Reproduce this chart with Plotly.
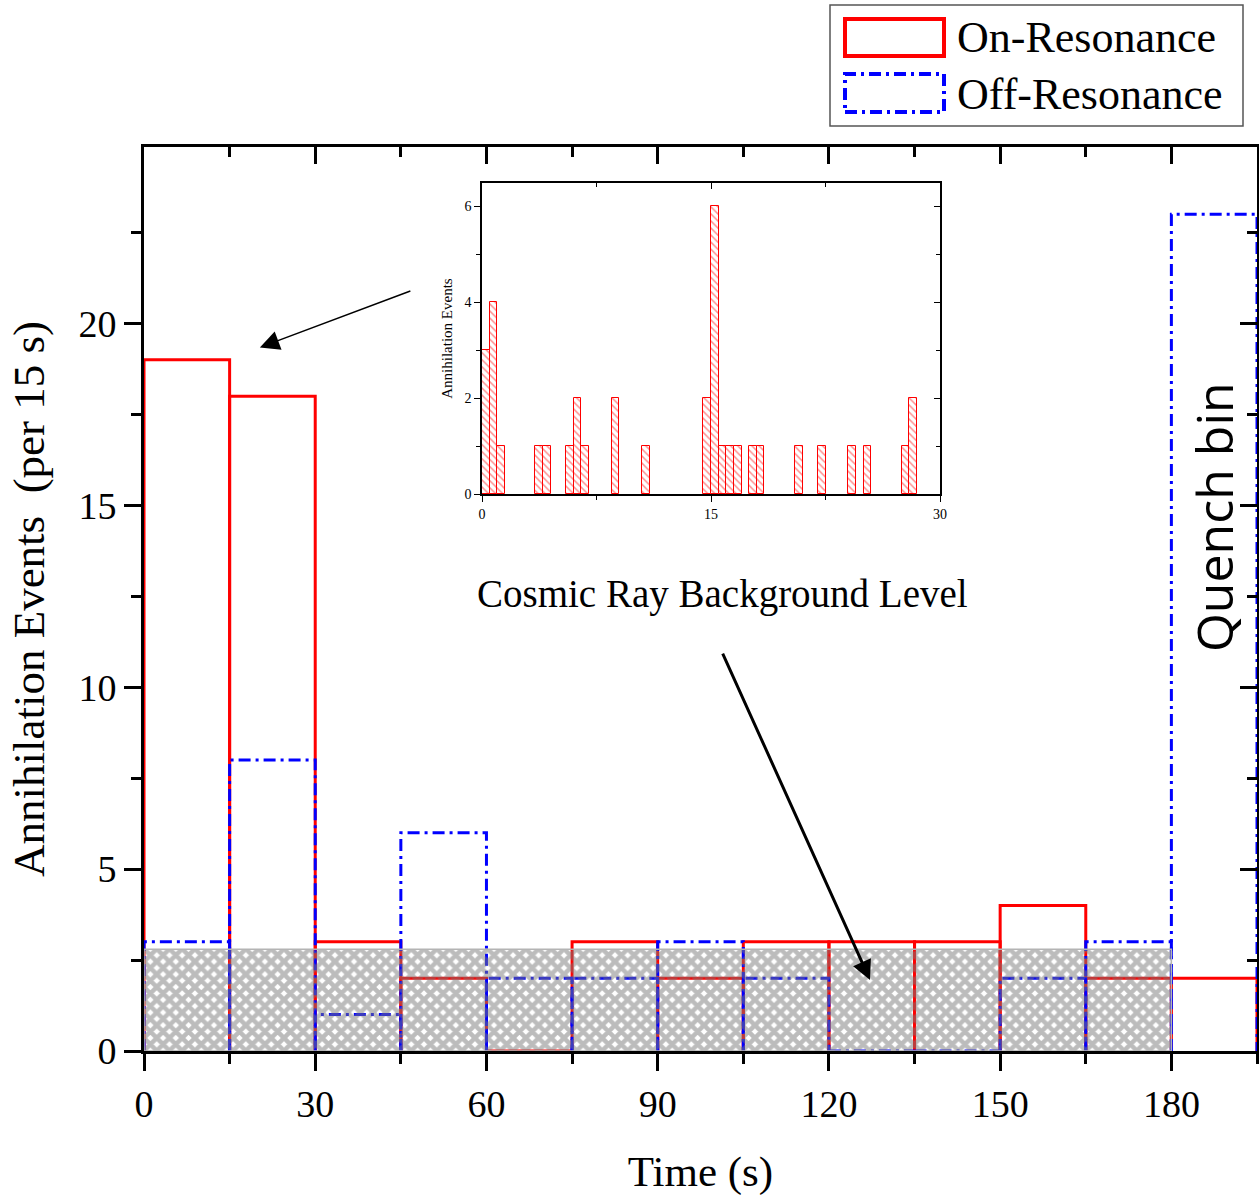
import plotly.graph_objects as go

# ---------------- data ----------------
bin_starts = [0, 15, 30, 45, 60, 75, 90, 105, 120, 135, 150, 165, 180]
bin_width = 15
on_resonance = [19, 18, 3, 2, 0, 3, 2, 3, 3, 3, 4, 2, 2]
off_resonance = [3, 8, 1, 6, 2, 2, 3, 2, 0, 0, 2, 3, 23]
background_level = 2.8
background_end = 180

inset_bin_starts = [0, 0.5, 1.0, 3.5, 4.0, 5.5, 6.0, 6.5, 8.5, 10.5, 14.5, 15.0,
                    15.5, 16.0, 16.5, 17.5, 18.0, 20.5, 22.0, 24.0, 25.0, 27.5, 28.0]
inset_counts = [3, 4, 1, 1, 1, 1, 2, 1, 2, 1, 2, 6, 1, 1, 1, 1, 1, 1, 1, 1, 1, 1, 2]
inset_bin_width = 0.5

x_ticks = [0, 30, 60, 90, 120, 150, 180]
y_ticks = [0, 5, 10, 15, 20]
inset_x_ticks = [0, 15, 30]
inset_y_ticks = [0, 2, 4, 6]

SERIF = "Liberation Serif"
W, H = 1259, 1196
L, R, T, B = 144, 2, 147, 145


def px(xp):
    return (xp - L) / (W - L - R)


def py(yp):
    return (H - B - yp) / (H - T - B)


def outline(starts, values, width):
    xs, ys = [], []
    for s, v in zip(starts, values):
        xs += [s, s, s + width, s + width, None]
        ys += [0, v, v, 0, None]
    return xs, ys


fig = go.Figure()

rx, ry = outline(bin_starts, on_resonance, bin_width)
fig.add_trace(go.Scatter(x=rx, y=ry, mode="lines", name="On-Resonance",
                         line=dict(color="#ff0000", width=3), showlegend=False,
                         hoverinfo="skip"))
bx, by = outline(bin_starts, off_resonance, bin_width)
fig.add_trace(go.Scatter(x=bx, y=by, mode="lines", name="Off-Resonance",
                         line=dict(color="#0000ff", width=3, dash="12px,5px,3px,5px"),
                         showlegend=False, hoverinfo="skip"))

# cosmic-ray background (hatched)
fig.add_trace(go.Scatter(x=[0, background_end, background_end, 0, 0],
                         y=[0, 0, background_level, background_level, 0],
                         mode="lines", fill="toself", fillcolor="rgba(255,255,255,0)",
                         fillpattern=dict(shape="x", size=9, solidity=0.75,
                                          fgcolor="#7a7a7a", bgcolor="rgba(255,255,255,0)"),
                         line=dict(color="#b4b4b4", width=1.5), showlegend=False,
                         hoverinfo="skip"))

# inset histogram
fig.add_trace(go.Bar(x=[s + inset_bin_width / 2 for s in inset_bin_starts], y=inset_counts,
                     width=inset_bin_width, xaxis="x2", yaxis="y2", showlegend=False,
                     marker=dict(color="white", line=dict(color="#ff0000", width=1),
                                 pattern=dict(shape="\\", size=5, solidity=0.3,
                                              fgcolor="#ff2020", bgcolor="white")),
                     hoverinfo="skip"))

# dummy traces for mirrored (inside) tick axes
for xa, ya in [("x3", "y"), ("x", "y3"), ("x4", "y2"), ("x2", "y4")]:
    fig.add_trace(go.Scatter(x=[None], y=[None], xaxis=xa, yaxis=ya, showlegend=False,
                             hoverinfo="skip"))

tickfont = dict(family=SERIF, size=38, color="black")
common_main = dict(showgrid=False, zeroline=False, linecolor="black", linewidth=3,
                   tickcolor="black", tickwidth=3, ticklen=17, automargin=False)
x_range = [0, 195]
y_range = [0, 24.85]

fig.update_layout(
    width=W, height=H, margin=dict(l=L, r=R, t=T, b=B, autoexpand=False),
    paper_bgcolor="white", plot_bgcolor="white",
    xaxis=dict(range=x_range, tickvals=x_ticks, ticks="outside", showline=True, mirror=True,
               tickfont=tickfont,
               minor=dict(dtick=15, tick0=0, ticks="outside", ticklen=10, tickwidth=3,
                          tickcolor="black"),
               title=dict(text="Time (s)", font=dict(family=SERIF, size=43, color="black"),
                          standoff=34),
               **common_main),
    yaxis=dict(range=y_range, tickvals=y_ticks, ticks="outside", showline=True, mirror=True,
               tickfont=tickfont,
               minor=dict(dtick=2.5, tick0=0, ticks="outside", ticklen=10, tickwidth=3,
                          tickcolor="black"),
               title=dict(text="Annihilation Events  (per 15 s)",
                          font=dict(family=SERIF, size=45, color="black"), standoff=20),
               **common_main),
    xaxis3=dict(range=x_range, overlaying="x", side="top", anchor="y", tickvals=x_ticks,
                ticks="inside", showticklabels=False, showline=False, automargin=False,
                minor=dict(dtick=15, tick0=0, ticks="inside", ticklen=10, tickwidth=3,
                           tickcolor="black"),
                showgrid=False, zeroline=False, tickcolor="black", tickwidth=3, ticklen=17),
    yaxis3=dict(range=y_range, overlaying="y", side="right", anchor="x", tickvals=y_ticks,
                ticks="inside", showticklabels=False, showline=False, automargin=False,
                minor=dict(dtick=2.5, tick0=0, ticks="inside", ticklen=10, tickwidth=3,
                           tickcolor="black"),
                showgrid=False, zeroline=False, tickcolor="black", tickwidth=3, ticklen=17),
    xaxis2=dict(domain=[px(482), px(940)], anchor="y2", range=[0, 30], tickvals=inset_x_ticks,
                ticks="outside", ticklen=6, tickwidth=1, tickcolor="black",
                showline=True, mirror=True, linecolor="black", linewidth=1.5,
                showgrid=False, zeroline=False, automargin=False,
                tickfont=dict(family=SERIF, size=14, color="black"),
                minor=dict(dtick=7.5, tick0=0, ticks="outside", ticklen=4, tickwidth=1,
                           tickcolor="black")),
    yaxis2=dict(domain=[py(494), py(183)], anchor="x2", range=[0, 6.48],
                tickvals=inset_y_ticks, ticks="outside", ticklen=6, tickwidth=1,
                tickcolor="black", showline=True, mirror=True, linecolor="black",
                linewidth=1.5, showgrid=False, zeroline=False, automargin=False,
                tickfont=dict(family=SERIF, size=14, color="black"),
                minor=dict(dtick=1, tick0=0, ticks="outside", ticklen=4, tickwidth=1,
                           tickcolor="black"),
                title=dict(text="Annihilation Events",
                           font=dict(family=SERIF, size=15, color="black"), standoff=8)),
    xaxis4=dict(range=[0, 30], overlaying="x2", side="top", anchor="y2",
                tickvals=inset_x_ticks, ticks="inside", ticklen=6, tickwidth=1,
                tickcolor="black", showticklabels=False, showline=False, showgrid=False,
                zeroline=False, automargin=False,
                minor=dict(dtick=7.5, tick0=0, ticks="inside", ticklen=4, tickwidth=1,
                           tickcolor="black")),
    yaxis4=dict(range=[0, 6.48], overlaying="y2", side="right", anchor="x2",
                tickvals=inset_y_ticks, ticks="inside", ticklen=6, tickwidth=1,
                tickcolor="black", showticklabels=False, showline=False, showgrid=False,
                zeroline=False, automargin=False,
                minor=dict(dtick=1, tick0=0, ticks="inside", ticklen=4, tickwidth=1,
                           tickcolor="black")),
    bargap=0,
    showlegend=False,
)

# custom legend (box with outlined rectangles)
fig.add_shape(type="rect", xref="paper", yref="paper", x0=px(830), x1=px(1243),
              y0=py(126), y1=py(5), line=dict(color="#555555", width=1.5),
              fillcolor="white", layer="above")
fig.add_shape(type="rect", xref="paper", yref="paper", x0=px(845), x1=px(944),
              y0=py(56), y1=py(19), line=dict(color="#ff0000", width=4))
fig.add_shape(type="rect", xref="paper", yref="paper", x0=px(845), x1=px(944),
              y0=py(112), y1=py(74), line=dict(color="#0000ff", width=4,
                                                dash="12px,5px,3px,5px"))
for label, yc in [("On-Resonance", 38), ("Off-Resonance", 94)]:
    fig.add_annotation(text=label, xref="paper", yref="paper", x=px(955), y=py(yc),
                       xanchor="left", yanchor="middle", showarrow=False,
                       font=dict(family=SERIF, size=44, color="black"))

# text annotations
fig.add_annotation(text="Cosmic Ray Background Level", x=101.3, y=12.55, xref="x", yref="y",
                   showarrow=False, font=dict(family=SERIF, size=39, color="black"))
fig.add_annotation(text="Quench bin", x=187.6, y=14.67, xref="x", yref="y", textangle=-90,
                   showarrow=False, font=dict(family="Open Sans", size=50, color="black"))

# arrows
fig.add_annotation(x=20.3, y=19.34, xref="x", yref="y", ax=152, ay=-57, text="",
                   showarrow=True, arrowhead=2, arrowsize=2.6, arrowwidth=1.5,
                   arrowcolor="black")
fig.add_annotation(x=127.2, y=1.95, xref="x", yref="y", ax=-148, ay=-328, text="",
                   showarrow=True, arrowhead=2, arrowsize=1.3, arrowwidth=3,
                   arrowcolor="black")

fig.write_html("out.html")
